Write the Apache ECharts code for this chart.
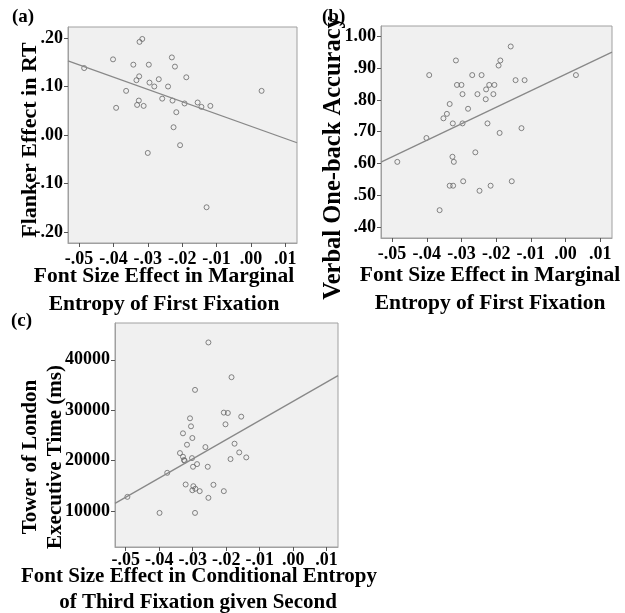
<!DOCTYPE html>
<html>
<head>
<meta charset="utf-8">
<script src="https://cdn.jsdelivr.net/npm/echarts@6/dist/echarts.min.js"></script>
<style>
  html, body { margin: 0; padding: 0; background: #ffffff; }
  #chart { width: 625px; height: 613px; }
</style>
</head>
<body>
<div id="chart"></div>
<script>
// ---------- data ----------
const xRange = [-0.0532, 0.0134];
const xTicks = [-0.05, -0.04, -0.03, -0.02, -0.01, 0.00, 0.01];

// Panel (a): Flanker effect in RT
const aX = [-0.0485,-0.0401,-0.0392,-0.0363,-0.0342,-0.0324,-0.0316,-0.0333,-0.0325,-0.0326,-0.0331,-0.0312,-0.0297,-0.0295,-0.0281,-0.0268,-0.0300,-0.0258,-0.0241,-0.0230,-0.0221,-0.0228,-0.0217,-0.0225,-0.0206,-0.0188,-0.0193,-0.0155,-0.0144,-0.0118,-0.0129,0.0031];
const aY = [0.138,0.156,0.056,0.091,0.145,0.192,0.198,0.113,0.121,0.071,0.062,0.060,0.145,0.108,0.100,0.115,-0.037,0.075,0.100,0.160,0.141,0.071,0.047,0.016,-0.021,0.119,0.065,0.067,0.058,0.060,-0.149,0.091];
const aYRange = [-0.2227, 0.2227];
const aYTicks = [-0.20, -0.10, 0.00, 0.10, 0.20];
const aFit = [0.153, -0.016];   // fit line values at xRange ends

// Panel (b): Verbal one-back accuracy
const bX = [-0.0485,-0.0401,-0.0393,-0.0363,-0.0352,-0.0342,-0.0334,-0.0325,-0.0334,-0.0324,-0.0326,-0.0322,-0.0316,-0.0313,-0.0300,-0.0297,-0.0297,-0.0295,-0.0281,-0.0269,-0.0260,-0.0254,-0.0248,-0.0242,-0.0229,-0.0230,-0.0225,-0.0220,-0.0216,-0.0208,-0.0205,-0.0193,-0.0188,-0.0190,-0.0158,-0.0155,-0.0144,-0.0127,-0.0118,0.0030];
const bY = [0.605,0.680,0.878,0.453,0.742,0.756,0.787,0.726,0.530,0.530,0.621,0.605,0.924,0.847,0.847,0.818,0.726,0.544,0.772,0.878,0.635,0.818,0.514,0.878,0.833,0.802,0.726,0.847,0.530,0.818,0.847,0.908,0.924,0.696,0.968,0.544,0.862,0.711,0.862,0.878];
const bYRange = [0.3655, 1.0324];
const bYTicks = [0.40, 0.50, 0.60, 0.70, 0.80, 0.90, 1.00];
const bFit = [0.604, 0.950];

// Panel (c): Tower of London executive time
const cX = [-0.0253,-0.0184,-0.0293,-0.0207,-0.0195,-0.0155,-0.0308,-0.0202,-0.0305,-0.0329,-0.0301,-0.0317,-0.0262,-0.0175,-0.0338,-0.0161,-0.0329,-0.0302,-0.0140,-0.0326,-0.0324,-0.0187,-0.0287,-0.0299,-0.0255,-0.0376,-0.0321,-0.0298,-0.0238,-0.0292,-0.0301,-0.0279,-0.0207,-0.0253,-0.0495,-0.0399,-0.0293];
const cY = [43440,36540,34020,29510,29440,28710,28380,27190,26790,25400,24470,23140,22670,23340,21480,21610,20750,20480,20620,20090,19950,20290,19290,18760,18760,17560,15240,14900,15180,14400,14100,13920,13920,12590,12790,9600,9600];
const cYRange = [2834, 47300];
const cYTicks = [10000, 20000, 30000, 40000];
const cFit = [11500, 36850];

// ---------- texts ----------
const panelLetters = ['(a)', '(b)', '(c)'];
const yTitles = [['Flanker Effect in RT'], ['Verbal One-back Accuracy'], ['Tower of London', 'Executive Time (ms)']];
const xTitles = [
  ['Font Size Effect in Marginal', 'Entropy of First Fixation'],
  ['Font Size Effect in Marginal', 'Entropy of First Fixation'],
  ['Font Size Effect in Conditional Entropy', 'of Third Fixation given Second']
];

// ---------- build ----------
const FONT = '"Liberation Serif", "Times New Roman", serif';
const decFmt = v => {
  const s = Number(v).toFixed(2);
  return s.replace(/^(-?)0\./, '$1.');
};
const zip = (xs, ys) => xs.map((x, i) => [x, ys[i]]);

const grids = [
  { left: 68, top: 27, width: 229, height: 216 },
  { left: 381, top: 26, width: 231, height: 212 },
  { left: 115, top: 323, width: 223, height: 224 }
].map(g => Object.assign(g, {
  show: true, backgroundColor: '#f0f0f0', borderColor: '#a0a0a0', borderWidth: 1, containLabel: false
}));

const xLabelMargin = [7, 7, 4];
function xAxis(i) {
  return {
    type: 'value', gridIndex: i, min: xRange[0], max: xRange[1],
    axisLine: { show: true, onZero: false, lineStyle: { color: '#a0a0a0', width: 1 } },
    axisTick: { show: true, length: 4, customValues: xTicks, lineStyle: { color: '#555' } },
    axisLabel: { customValues: xTicks, formatter: decFmt, margin: xLabelMargin[i], color: '#000',
      fontFamily: FONT, fontWeight: 'bold', fontSize: 18 },
    splitLine: { show: false }
  };
}
function yAxis(i, range, ticks, fmt) {
  return {
    type: 'value', gridIndex: i, min: range[0], max: range[1],
    axisLine: { show: true, onZero: false, lineStyle: { color: '#a0a0a0', width: 1 } },
    axisTick: { show: true, length: 4, customValues: ticks, lineStyle: { color: '#555' } },
    axisLabel: { customValues: ticks, formatter: fmt, margin: 5, color: '#000',
      fontFamily: FONT, fontWeight: 'bold', fontSize: 18 },
    splitLine: { show: false }
  };
}

const scatterStyle = {
  type: 'scatter', symbol: 'circle', symbolSize: 5,
  itemStyle: { color: 'rgba(0,0,0,0)', borderColor: '#666666', borderWidth: 1 },
  silent: true
};
const lineStyle = {
  type: 'line', showSymbol: false, silent: true,
  lineStyle: { color: '#888888', width: 1.3 }
};

const series = [
  Object.assign({}, lineStyle, { xAxisIndex: 0, yAxisIndex: 0, data: zip(xRange, aFit) }),
  Object.assign({}, scatterStyle, { xAxisIndex: 0, yAxisIndex: 0, data: zip(aX, aY) }),
  Object.assign({}, lineStyle, { xAxisIndex: 1, yAxisIndex: 1, data: zip(xRange, bFit) }),
  Object.assign({}, scatterStyle, { xAxisIndex: 1, yAxisIndex: 1, data: zip(bX, bY) }),
  Object.assign({}, lineStyle, { xAxisIndex: 2, yAxisIndex: 2, data: zip(xRange, cFit) }),
  Object.assign({}, scatterStyle, { xAxisIndex: 2, yAxisIndex: 2, data: zip(cX, cY) })
];

function txt(text, x, y, size, opts) {
  return Object.assign({
    type: 'text', x: x, y: y, silent: true,
    style: { text: text, fill: '#000', font: 'bold ' + size + 'px ' + FONT,
      textAlign: (opts && opts.align) || 'center', textVerticalAlign: 'middle' }
  }, (opts && opts.rot) ? { rotation: Math.PI / 2 } : {});
}

const graphics = [
  txt(panelLetters[0], 12, 17, 19, { align: 'left' }),
  txt(panelLetters[1], 322, 17, 19, { align: 'left' }),
  txt(panelLetters[2], 11, 321, 19, { align: 'left' }),
  // y titles (rotated)
  txt(yTitles[0][0], 30, 140, 22, { rot: true }),
  txt(yTitles[1][0], 334, 158, 24.5, { rot: true }),
  txt(yTitles[2][0], 31, 457, 21, { rot: true }),
  txt(yTitles[2][1], 56, 457, 21, { rot: true }),
  // x titles
  txt(xTitles[0][0], 164, 276, 21.5),
  txt(xTitles[0][1], 164, 304, 21.5),
  txt(xTitles[1][0], 490, 275, 21.5),
  txt(xTitles[1][1], 490, 303, 21.5),
  txt(xTitles[2][0], 199, 577, 21),
  txt(xTitles[2][1], 198, 603, 21)
];

const chart = echarts.init(document.getElementById('chart'), null, { renderer: 'canvas' });
chart.setOption({
  animation: false,
  backgroundColor: '#ffffff',
  grid: grids,
  xAxis: [xAxis(0), xAxis(1), xAxis(2)],
  yAxis: [
    yAxis(0, aYRange, aYTicks, decFmt),
    yAxis(1, bYRange, bYTicks, decFmt),
    yAxis(2, cYRange, cYTicks, v => String(Math.round(v)))
  ],
  series: series,
  graphic: graphics
});
</script>
</body>
</html>
